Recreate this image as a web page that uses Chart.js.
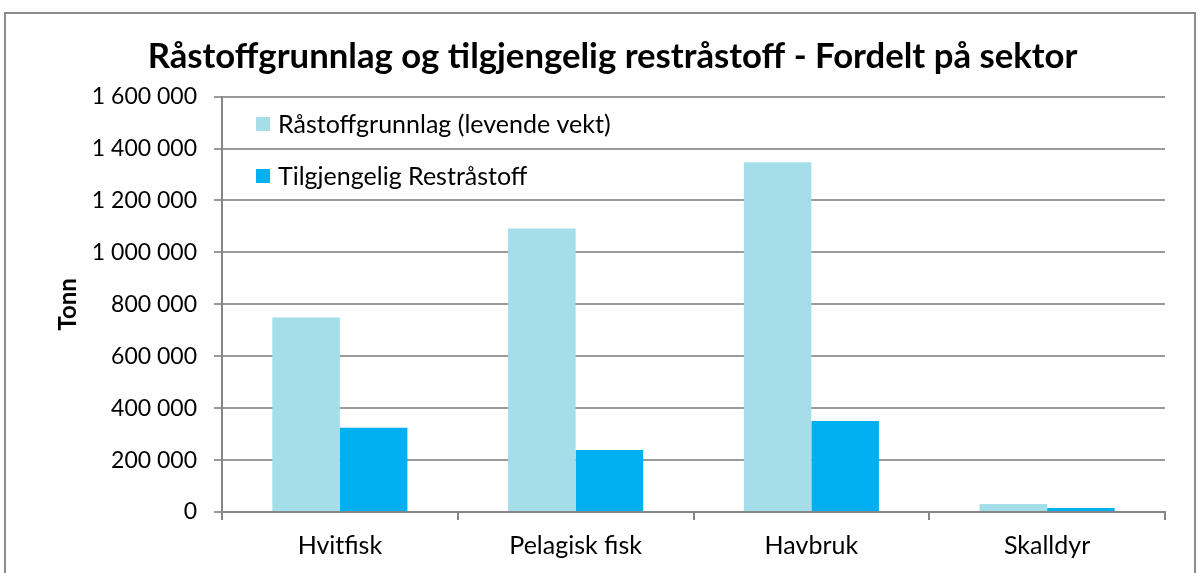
<!DOCTYPE html>
<html><head><meta charset="utf-8">
<script src="https://cdn.jsdelivr.net/npm/chart.js@4"></script>
<style>html,body{margin:0;padding:0;background:#fff}#wrap{width:1200px;height:573px;position:relative}</style>
</head><body><div id="wrap"><canvas id="c"></canvas></div>
<script>
const categories = ['Hvitfisk', 'Pelagisk fisk', 'Havbruk', 'Skalldyr'];
const seriesNames = ['Råstoffgrunnlag (levende vekt)', 'Tilgjengelig Restråstoff'];
const rastoffgrunnlag = [749000, 1092000, 1347000, 31000];
const restrastoff = [325000, 239000, 351000, 15000];
const yTicks = [0, 200000, 400000, 600000, 800000, 1000000, 1200000, 1400000, 1600000];
const titleText = 'Råstoffgrunnlag og tilgjengelig restråstoff - Fordelt på sektor';
const yTitle = 'Tonn';

const FONT = 'Lato, "Open Sans", sans-serif';
const fmt = v => String(v).replace(/\B(?=(\d{3})+(?!\d))/g, ' ');

const frame = {
  id: 'frame',
  afterDraw(chart) {
    const ctx = chart.ctx;
    ctx.save();
    ctx.strokeStyle = '#8c8c8c';
    ctx.lineWidth = 2;
    ctx.strokeRect(5, 13, 1190, 580);
    // legend inside plot
    const ds = chart.data.datasets;
    const ys = [124, 176];
    ctx.font = '25px ' + FONT;
    ctx.textBaseline = 'middle';
    ds.forEach((d, i) => {
      ctx.fillStyle = d.backgroundColor;
      ctx.fillRect(256, ys[i] - 7, 14, 14);
      ctx.fillStyle = '#000';
      ctx.fillText(d.label, 278, ys[i] + 1);
    });
    ctx.restore();
  }
};

new Chart(document.getElementById('c'), {
  type: 'bar',
  data: {
    labels: categories,
    datasets: [
      { label: seriesNames[0], data: rastoffgrunnlag, backgroundColor: '#A5DEE9' },
      { label: seriesNames[1], data: restrastoff, backgroundColor: '#00B0F0' }
    ]
  },
  options: {
    responsive: true,
    maintainAspectRatio: false,
    animation: false,
    layout: { padding: { left: 60, right: 35, top: 0, bottom: 0 } },
    datasets: { bar: { categoryPercentage: 0.573, barPercentage: 1.0 } },
    plugins: {
      legend: { display: false },
      tooltip: { enabled: false },
      title: {
        display: true, text: titleText, color: '#000',
        font: { family: FONT, size: 34.7, weight: 'bold', lineHeight: 1.2 },
        padding: { top: 36, bottom: 19 }
      }
    },
    scales: {
      x: {
        grid: { display: true, offset: true, drawOnChartArea: false, color: '#868686', lineWidth: 2, tickLength: 8 },
        border: { color: '#868686', width: 2 },
        ticks: { color: '#000', font: { family: FONT, size: 25 }, padding: 11 },
        afterFit(s) { s.height = 61; }
      },
      y: {
        min: 0, max: 1600000,
        afterBuildTicks(s) { s.ticks = yTicks.map(v => ({ value: v })); },
        grid: { color: '#9a9a9a', lineWidth: 2, tickLength: 8 },
        border: { color: '#868686', width: 2 },
        ticks: { color: '#000', font: { family: FONT, size: 23 }, padding: 17, callback: v => fmt(v) },
        title: { display: true, text: yTitle, color: '#000', font: { family: FONT, size: 24, weight: 'bold', lineHeight: 1.2 }, padding: { top: -6.4, bottom: 0 } },
        afterFit(s) { s.width = 162; }
      }
    }
  },
  plugins: [frame]
});
</script></body></html>
